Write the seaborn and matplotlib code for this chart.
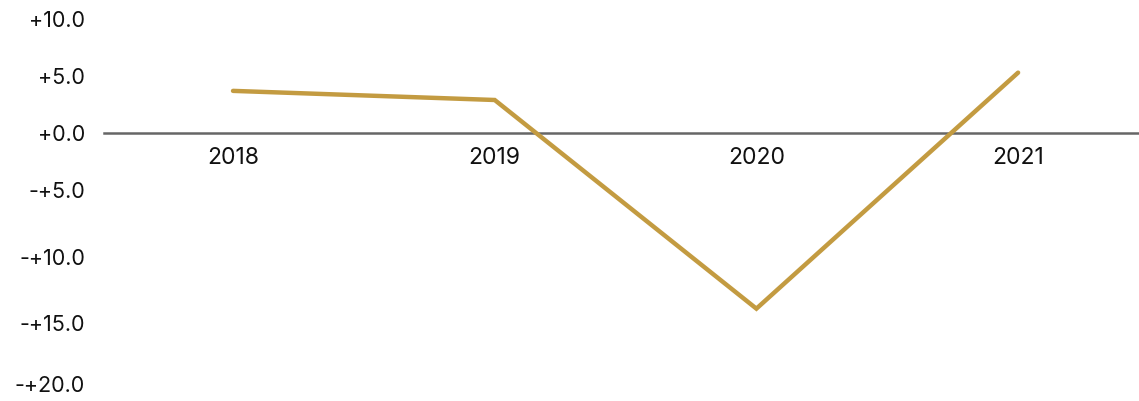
import pandas as pd
import matplotlib.pyplot as plt
import seaborn as sns
from matplotlib.ticker import FixedLocator

# 数据
years = ["2018", "2019", "2020", "2021"]
growth = [3.7, 2.9, -15.4, 5.3]
ytick_pos = [10, 5, 0, -5, -10.9, -16.7, -22.0]
ytick_labels = ["+10.0", "+5.0", "+0.0", "-+5.0", "-+10.0", "-+15.0", "-+20.0"]

df = pd.DataFrame({"year": years, "value": growth})

sns.set_style("white")
plt.rcParams['font.family'] = ['Inter', 'DejaVu Sans']

fig = plt.figure(figsize=(11.39, 4.01), dpi=100)
ax = fig.add_axes([104 / 1139, 0, 1035 / 1139, 1])

sns.lineplot(data=df, x="year", y="value", color="#C39B41", linewidth=3.2,
             solid_capstyle="round", solid_joinstyle="miter", ax=ax, zorder=3)

ax.set_xlim(-0.493, 3.462)
ax.set_ylim(-23.5, 11.67)

for s in ["top", "right", "left"]:
    ax.spines[s].set_visible(False)
ax.spines["bottom"].set_position(("data", 0))
ax.spines["bottom"].set_color("#666666")
ax.spines["bottom"].set_linewidth(1.8)
ax.spines["bottom"].set_zorder(2)

ax.yaxis.set_major_locator(FixedLocator(ytick_pos))
ax.set_yticklabels(ytick_labels)
ax.tick_params(axis="y", length=0, pad=13.5, labelsize=15.5, labelcolor="#111111")
ax.tick_params(axis="x", length=0, pad=10, labelsize=16.5, labelcolor="#111111")
ax.set_xlabel("")
ax.set_ylabel("")
ax.grid(False)

plt.savefig("out.png", dpi=100)
